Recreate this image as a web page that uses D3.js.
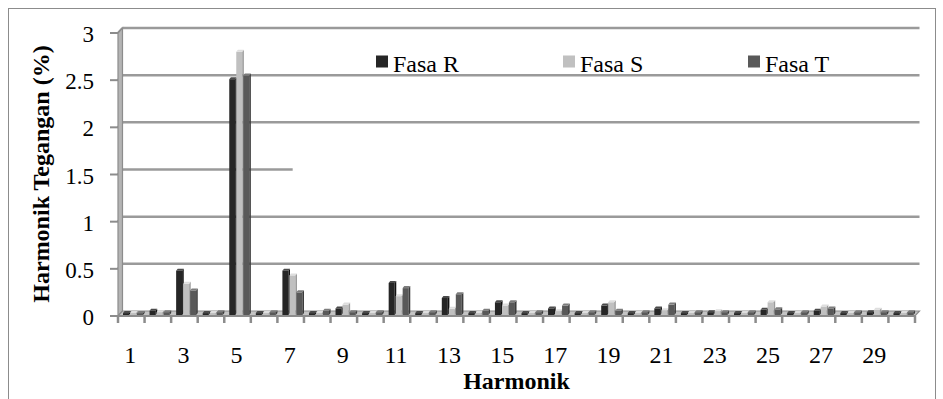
<!DOCTYPE html>
<html><head><meta charset="utf-8">
<script src="https://cdn.jsdelivr.net/npm/d3@7"></script>
<style>html,body{margin:0;padding:0;background:#fff;}svg{display:block;} text{font-family:"Times New Roman","Liberation Serif",Times,serif;}</style>
</head><body>
<svg id="chart" width="943" height="399"></svg>
<script>
const categories = [1,2,3,4,5,6,7,8,9,10,11,12,13,14,15,16,17,18,19,20,21,22,23,24,25,26,27,28,29,30];
const xTickLabels = ["1","3","5","7","9","11","13","15","17","19","21","23","25","27","29"];
const seriesNames = ["Fasa R","Fasa S","Fasa T"];
const fasaR = [0.02,0.045,0.47,0.02,2.50,0.02,0.47,0.02,0.07,0.02,0.34,0.02,0.18,0.02,0.135,0.02,0.07,0.02,0.10,0.02,0.07,0.02,0.03,0.02,0.055,0.02,0.045,0.02,0.03,0.02];
const fasaS = [0.02,0.03,0.33,0.02,2.79,0.02,0.42,0.02,0.11,0.02,0.20,0.02,0.065,0.02,0.10,0.02,0.04,0.02,0.135,0.02,0.05,0.02,0.04,0.02,0.135,0.02,0.09,0.02,0.055,0.02];
const fasaT = [0.02,0.03,0.26,0.03,2.54,0.03,0.24,0.045,0.03,0.03,0.285,0.03,0.22,0.045,0.135,0.03,0.10,0.03,0.045,0.03,0.11,0.03,0.03,0.03,0.06,0.03,0.07,0.03,0.03,0.03];
const yTicks = [0,0.5,1,1.5,2,2.5,3];
const yTickLabels = ["0","0.5","1","1.5","2","2.5","3"];

const colors = {
  "Fasa R": {front:"#262626", top:"#4a4a4a", side:"#111111"},
  "Fasa S": {front:"#c0c0c0", top:"#dedede", side:"#9c9c9c"},
  "Fasa T": {front:"#595959", top:"#7c7c7c", side:"#3c3c3c"}
};
const seriesData = {"Fasa R":fasaR, "Fasa S":fasaS, "Fasa T":fasaT};

const svg = d3.select("#chart");
const X0 = 118, X1 = 915, DX = 4.5, DY = -5;

const x = d3.scaleBand().domain(categories).range([X0, X1]).paddingInner(0).paddingOuter(0);
const inner = d3.scaleBand().domain(seriesNames).range([5, 26]);
const yFront = d3.scaleLinear().domain([0,3]).range([316, 33]);
const yBar = d3.scaleLinear().domain([0,3]).range([315, 32]);

// outer border
svg.append("rect").attr("x",8.5).attr("y",8.5).attr("width",927).attr("height",420)
  .attr("fill","none").attr("stroke","#8c8c8c").attr("stroke-width",1);

// back wall gridlines
yTicks.forEach(v => {
  if (v === 0) return;
  const yb = yFront(v) + DY;
  const xEnd = (v === 1.5) ? x(7) + x.bandwidth()/2 + 2 : X1 + DX;
  svg.append("line").attr("x1",X0+DX).attr("x2",xEnd).attr("y1",yb).attr("y2",yb)
    .attr("stroke","#9a9a9a").attr("stroke-width",2.5);
  svg.append("line").attr("x1",X0).attr("x2",X0+DX).attr("y1",yFront(v)).attr("y2",yb)
    .attr("stroke","#9a9a9a").attr("stroke-width",2.5);
});

// left wall
svg.append("polygon")
  .attr("points",[[X0,yFront(0)],[X0,yFront(3)],[X0+DX,yFront(3)+DY],[X0+DX,yFront(0)+DY]].map(p=>p.join(",")).join(" "))
  .attr("fill","#b4b4b4").attr("stroke","#8c8c8c").attr("stroke-width",1.2);

// floor
svg.append("polygon")
  .attr("points",[[X0,yFront(0)],[X1,yFront(0)],[X1+DX,yFront(0)+DY],[X0+DX,yFront(0)+DY]].map(p=>p.join(",")).join(" "))
  .attr("fill","#c4c4c4").attr("stroke","#8c8c8c").attr("stroke-width",1.2);
svg.append("line").attr("x1",X0).attr("x2",X1).attr("y1",yFront(0)).attr("y2",yFront(0))
  .attr("stroke","#8c8c8c").attr("stroke-width",2);

// y ticks & labels
yTicks.forEach((v,i) => {
  svg.append("line").attr("x1",110).attr("x2",X0).attr("y1",yFront(v)).attr("y2",yFront(v))
    .attr("stroke","#8c8c8c").attr("stroke-width",2);
  svg.append("text").attr("x",94).attr("y",yFront(v)+9).attr("text-anchor","end")
    .attr("font-size",23).attr("fill","#000").text(yTickLabels[i]);
});

// x ticks at boundaries
categories.forEach(c => {
  svg.append("line").attr("x1",x(c)).attr("x2",x(c)).attr("y1",yFront(0)).attr("y2",323)
    .attr("stroke","#8c8c8c").attr("stroke-width",2.5);
});
svg.append("line").attr("x1",X1).attr("x2",X1).attr("y1",yFront(0)).attr("y2",323)
  .attr("stroke","#8c8c8c").attr("stroke-width",2.5);

// bars
const SD = 1.6, TD = 2, FW = 6;
categories.forEach((c,ci) => {
  seriesNames.forEach(s => {
    const v = seriesData[s][ci];
    const bx = x(c) + inner(s);
    const top = yBar(v), base = yBar(0);
    const col = colors[s];
    const g = svg.append("g");
    g.append("rect").attr("x",bx).attr("y",top).attr("width",FW).attr("height",base-top).attr("fill",col.front);
    g.append("polygon").attr("points",[[bx+FW,top],[bx+FW+SD,top-TD],[bx+FW+SD,base-TD],[bx+FW,base]].map(p=>p.join(",")).join(" "))
      .attr("fill",col.side);
    g.append("polygon").attr("points",[[bx,top],[bx+SD,top-TD],[bx+FW+SD,top-TD],[bx+FW,top]].map(p=>p.join(",")).join(" "))
      .attr("fill",col.top);
  });
});

// x labels
categories.forEach(c => {
  const lbl = String(c);
  if (xTickLabels.indexOf(lbl) < 0) return;
  svg.append("text").attr("x",x(c)+x.bandwidth()/2 - 1).attr("y",362.5).attr("text-anchor","middle")
    .attr("font-size",24).attr("fill","#000").text(lbl);
});

// axis titles
svg.append("text").attr("x",(X0+X1)/2).attr("y",389).attr("text-anchor","middle")
  .attr("font-size",24).attr("font-weight","bold").text("Harmonik");
svg.append("text").attr("transform","translate(48.5,"+174+") rotate(-90)").attr("text-anchor","middle")
  .attr("font-size",24).attr("font-weight","bold").text("Harmonik Tegangan (%)");

// legend
const legendX = [376, 563, 748];
seriesNames.forEach((s,i) => {
  svg.append("rect").attr("x",legendX[i]).attr("y",55.5).attr("width",12).attr("height",12).attr("fill",colors[s].front);
  svg.append("text").attr("x",legendX[i]+17).attr("y",71.5).attr("font-size",24)
    .attr("fill","#000").text(s);
});
</script>
</body></html>
